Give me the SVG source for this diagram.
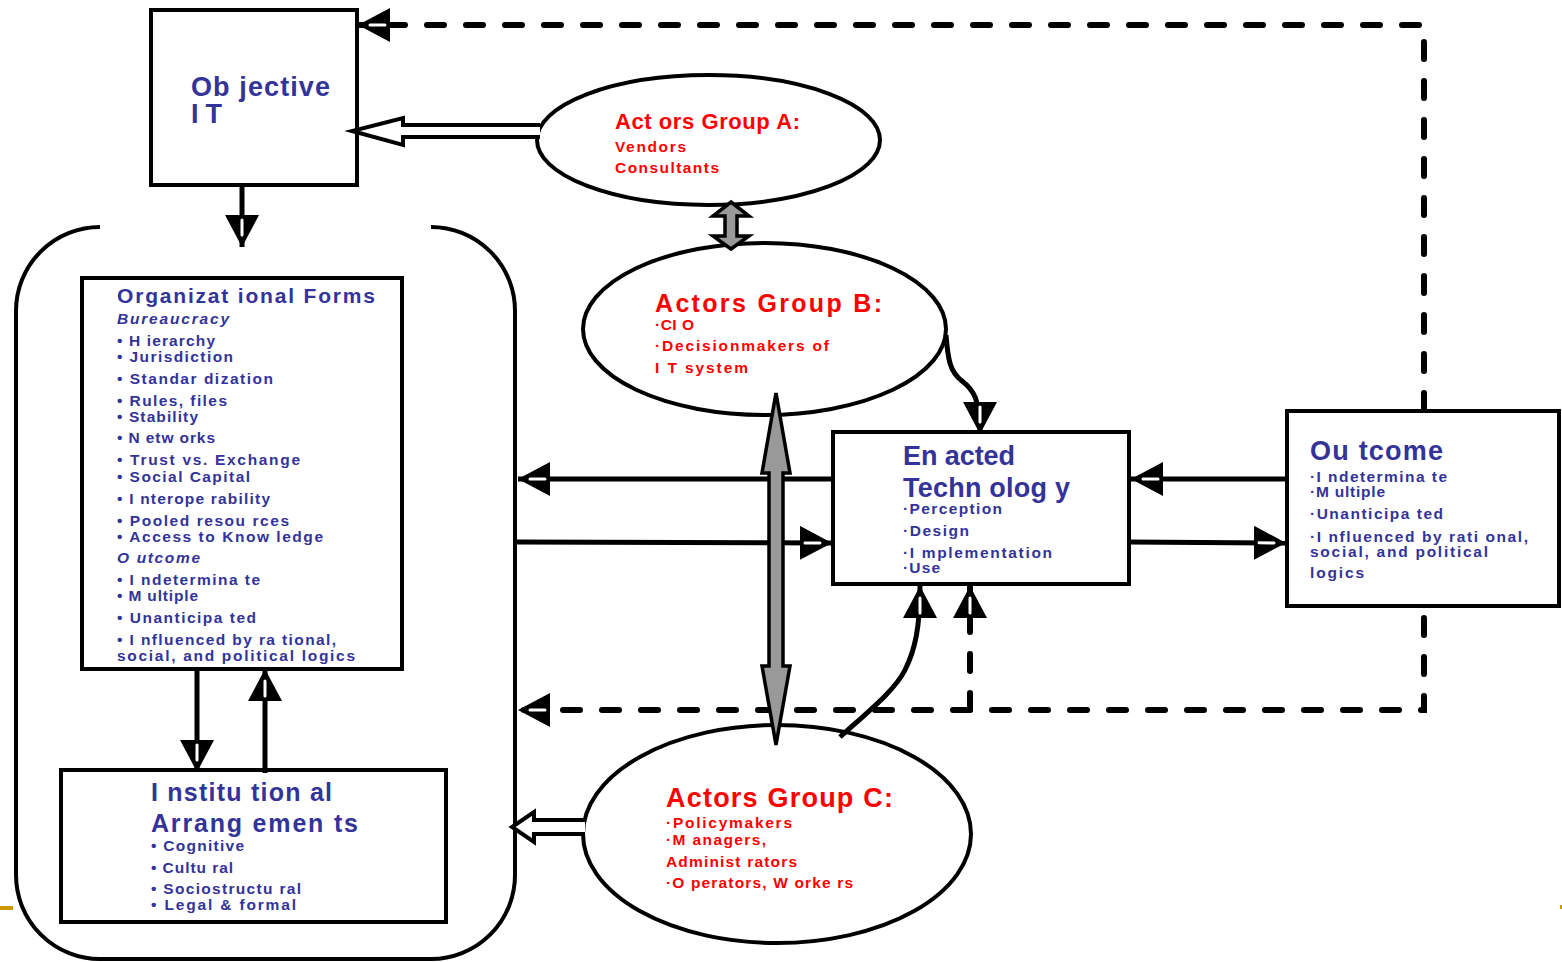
<svg xmlns="http://www.w3.org/2000/svg" width="1562" height="962" viewBox="0 0 1562 962">
  <style>
    .box { fill: #fff; stroke: #000; stroke-width: 4; }
    .oval { fill: #fff; stroke: #000; stroke-width: 4; }
    .t { font-family: "Liberation Sans", Arial, sans-serif; font-weight: bold; }
    .blue { fill: #333399; }
    .red { fill: #ff0000; }
    .big { font-size: 27px; }
    .hd { font-size: 25px; }
    .mid { font-size: 22px; }
    .sm { font-size: 15.5px; }
    .it { font-style: italic; }
    .wire { fill: none; stroke: #000; stroke-width: 5; }
    .dash { fill: none; stroke: #000; stroke-width: 6; stroke-dasharray: 17 22; stroke-linecap: round; }
    .hollow { fill: #fff; stroke: #000; stroke-width: 4; stroke-linejoin: miter; }
    .grey { fill: #999; stroke: #000; stroke-width: 3.5; stroke-linejoin: miter; }
  </style>
  <defs>
    <marker id="head" viewBox="0 0 32 34" refX="32" refY="17" markerWidth="32" markerHeight="34" markerUnits="userSpaceOnUse" orient="auto">
      <polygon points="0,0 32,17 0,34" fill="#000"/>
      <line x1="5" y1="17" x2="20" y2="17" stroke="#fff" stroke-width="3" stroke-linecap="round"/>
    </marker>
  </defs>
  <rect width="1562" height="962" fill="#fff"/>

  <!-- slide rule remnants -->
  <rect x="0" y="906" width="13" height="4" fill="#cc9900"/>
  <rect x="1560" y="905" width="2" height="4" fill="#cc9900"/>

  <!-- rounded frame around the organisational side -->
  <path id="frame" d="M 100 227 A 84 84 0 0 0 16 311 L 16 875 A 84 84 0 0 0 100 959 L 431 959 A 84 84 0 0 0 515 875 L 515 311 A 84 84 0 0 0 431 227" fill="none" stroke="#000" stroke-width="4"/>

  <g id="objective-it">
    <rect class="box" x="151" y="10" width="206" height="175"/>
    <text class="t blue big" x="191" y="96" textLength="139" lengthAdjust="spacing">Ob jective</text>
    <text class="t blue big" x="191" y="123" textLength="31" lengthAdjust="spacing">I T</text>
  </g>

  <g id="actors-a">
    <ellipse class="oval" cx="708.5" cy="140" rx="171.5" ry="65"/>
    <text class="t red mid" x="615" y="129" textLength="185" lengthAdjust="spacing">Act ors Group A:</text>
    <text class="t red sm" x="615" y="152" textLength="71" lengthAdjust="spacing">Vendors</text>
    <text class="t red sm" x="615" y="173" textLength="104" lengthAdjust="spacing">Consultants</text>
  </g>

  <g id="actors-b">
    <ellipse class="oval" cx="764.5" cy="329" rx="181.5" ry="86"/>
    <text class="t red hd" x="655" y="312" textLength="227" lengthAdjust="spacing">Actors Group B:</text>
    <text class="t red sm" x="655" y="330" textLength="39" lengthAdjust="spacing">·CI O</text>
    <text class="t red sm" x="655" y="351" textLength="174" lengthAdjust="spacing">·Decisionmakers of</text>
    <text class="t red sm" x="655" y="373" textLength="93" lengthAdjust="spacing">I T system</text>
  </g>

  <g id="organizational-forms">
    <rect class="box" x="82" y="278" width="320" height="391"/>
    <text class="t blue" font-size="21" x="117" y="303" textLength="258" lengthAdjust="spacing">Organizat ional Forms</text>
    <text class="t blue sm it" x="117" y="324" textLength="112" lengthAdjust="spacing">Bureaucracy</text>
    <text class="t blue sm" x="117" y="346" textLength="98" lengthAdjust="spacing">• H ierarchy</text>
    <text class="t blue sm" x="117" y="362" textLength="116" lengthAdjust="spacing">• Jurisdiction</text>
    <text class="t blue sm" x="117" y="384" textLength="156" lengthAdjust="spacing">• Standar dization</text>
    <text class="t blue sm" x="117" y="406" textLength="110" lengthAdjust="spacing">• Rules, files</text>
    <text class="t blue sm" x="117" y="422" textLength="81" lengthAdjust="spacing">• Stability</text>
    <text class="t blue sm" x="117" y="443" textLength="98" lengthAdjust="spacing">• N etw orks</text>
    <text class="t blue sm" x="117" y="465" textLength="183" lengthAdjust="spacing">• Trust vs. Exchange</text>
    <text class="t blue sm" x="117" y="482" textLength="133" lengthAdjust="spacing">• Social Capital</text>
    <text class="t blue sm" x="117" y="504" textLength="153" lengthAdjust="spacing">• I nterope rability</text>
    <text class="t blue sm" x="117" y="526" textLength="172" lengthAdjust="spacing">• Pooled resou rces</text>
    <text class="t blue sm" x="117" y="542" textLength="206" lengthAdjust="spacing">• Access to Know ledge</text>
    <text class="t blue sm it" x="117" y="563" textLength="83" lengthAdjust="spacing">O utcome</text>
    <text class="t blue sm" x="117" y="585" textLength="143" lengthAdjust="spacing">• I ndetermina te</text>
    <text class="t blue sm" x="117" y="601" textLength="81" lengthAdjust="spacing">• M ultiple</text>
    <text class="t blue sm" x="117" y="623" textLength="139" lengthAdjust="spacing">• Unanticipa ted</text>
    <text class="t blue sm" x="117" y="645" textLength="219" lengthAdjust="spacing">• I nfluenced by ra tional,</text>
    <text class="t blue sm" x="117" y="661" textLength="238" lengthAdjust="spacing">social, and political logics</text>
  </g>

  <g id="institutional-arrangements">
    <rect class="box" x="61" y="770" width="385" height="152"/>
    <text class="t blue hd" x="151" y="801" textLength="181" lengthAdjust="spacing">I nstitu tion al</text>
    <text class="t blue hd" x="151" y="832" textLength="207" lengthAdjust="spacing">Arrang emen ts</text>
    <text class="t blue sm" x="151" y="851" textLength="93" lengthAdjust="spacing">• Cognitive</text>
    <text class="t blue sm" x="151" y="873" textLength="82" lengthAdjust="spacing">• Cultu ral</text>
    <text class="t blue sm" x="151" y="894" textLength="150" lengthAdjust="spacing">• Sociostructu ral</text>
    <text class="t blue sm" x="151" y="910" textLength="145" lengthAdjust="spacing">• Legal &amp; formal</text>
  </g>

  <g id="enacted-technology">
    <rect class="box" x="833" y="432" width="296" height="152"/>
    <text class="t blue big" x="903" y="465" textLength="112" lengthAdjust="spacing">En acted</text>
    <text class="t blue big" x="903" y="497" textLength="167" lengthAdjust="spacing">Techn olog y</text>
    <text class="t blue sm" x="903" y="514" textLength="99" lengthAdjust="spacing">·Perception</text>
    <text class="t blue sm" x="903" y="536" textLength="66" lengthAdjust="spacing">·Design</text>
    <text class="t blue sm" x="903" y="558" textLength="149" lengthAdjust="spacing">·I mplementation</text>
    <text class="t blue sm" x="903" y="573" textLength="37" lengthAdjust="spacing">·Use</text>
  </g>

  <g id="outcome">
    <rect class="box" x="1287" y="411" width="272" height="195"/>
    <text class="t blue big" x="1310" y="460" textLength="133" lengthAdjust="spacing">Ou tcome</text>
    <text class="t blue sm" x="1310" y="482" textLength="137" lengthAdjust="spacing">·I ndetermina te</text>
    <text class="t blue sm" x="1310" y="497" textLength="75" lengthAdjust="spacing">·M ultiple</text>
    <text class="t blue sm" x="1310" y="519" textLength="133" lengthAdjust="spacing">·Unanticipa ted</text>
    <text class="t blue sm" x="1310" y="542" textLength="218" lengthAdjust="spacing">·I nfluenced by rati onal,</text>
    <text class="t blue sm" x="1310" y="557" textLength="178" lengthAdjust="spacing">social, and political</text>
    <text class="t blue sm" x="1310" y="578" textLength="54" lengthAdjust="spacing">logics</text>
  </g>

  <g id="actors-c">
    <ellipse class="oval" cx="777" cy="834" rx="194" ry="109"/>
    <text class="t red big" x="666" y="807" textLength="227" lengthAdjust="spacing">Actors Group C:</text>
    <text class="t red sm" x="666" y="828" textLength="126" lengthAdjust="spacing">·Policymakers</text>
    <text class="t red sm" x="666" y="845" textLength="100" lengthAdjust="spacing">·M anagers,</text>
    <text class="t red sm" x="666" y="867" textLength="131" lengthAdjust="spacing">Administ rators</text>
    <text class="t red sm" x="666" y="888" textLength="187" lengthAdjust="spacing">·O perators, W orke rs</text>
  </g>

  <g id="connectors">
    <!-- feedback loops (dashed) -->
    <path class="dash" d="M 1424 410 L 1424 25 L 358 25" marker-end="url(#head)"/>
    <path class="dash" d="M 1424 618 L 1424 710 L 518 710" marker-end="url(#head)"/>
    <path class="dash" d="M 970 710 L 970 586" marker-end="url(#head)"/>

    <!-- solid arrows -->
    <path class="wire" d="M 242 185 L 242 247" marker-end="url(#head)"/>
    <path class="wire" d="M 197 669 L 197 772" marker-end="url(#head)"/>
    <path class="wire" d="M 265 773 L 265 669" marker-end="url(#head)"/>
    <path class="wire" d="M 833 479 L 518 479" marker-end="url(#head)"/>
    <path class="wire" d="M 516 542 L 832 543" marker-end="url(#head)"/>
    <path class="wire" d="M 1287 479 L 1131 479" marker-end="url(#head)"/>
    <path class="wire" d="M 1129 542 L 1286 543" marker-end="url(#head)"/>
    <path class="wire" d="M 946 335 C 948 360, 950 372, 962 381 C 974 390, 980 400, 980 434" marker-end="url(#head)"/>
    <path class="wire" d="M 840 737 C 870 710, 895 690, 905 670 C 915 650, 920 628, 920 586" marker-end="url(#head)"/>

    <!-- hollow block arrows -->
    <path class="hollow" d="M 540 125 L 403 125 L 403 118 L 352 131 L 403 145 L 403 137 L 540 137"/>
    <path class="hollow" d="M 585 820 L 534 820 L 534 812 L 512 827 L 534 842 L 534 834 L 585 834"/>

    <!-- grey two-way arrows -->
    <polygon class="grey" points="731,202 749,216 737,216 737,236 749,236 731,249 713,236 725,236 725,216 713,216"/>
    <polygon class="grey" points="776,393 790,473 783,473 783,666 790,666 776,745 762,666 769,666 769,473 762,473"/>
  </g>
</svg>
